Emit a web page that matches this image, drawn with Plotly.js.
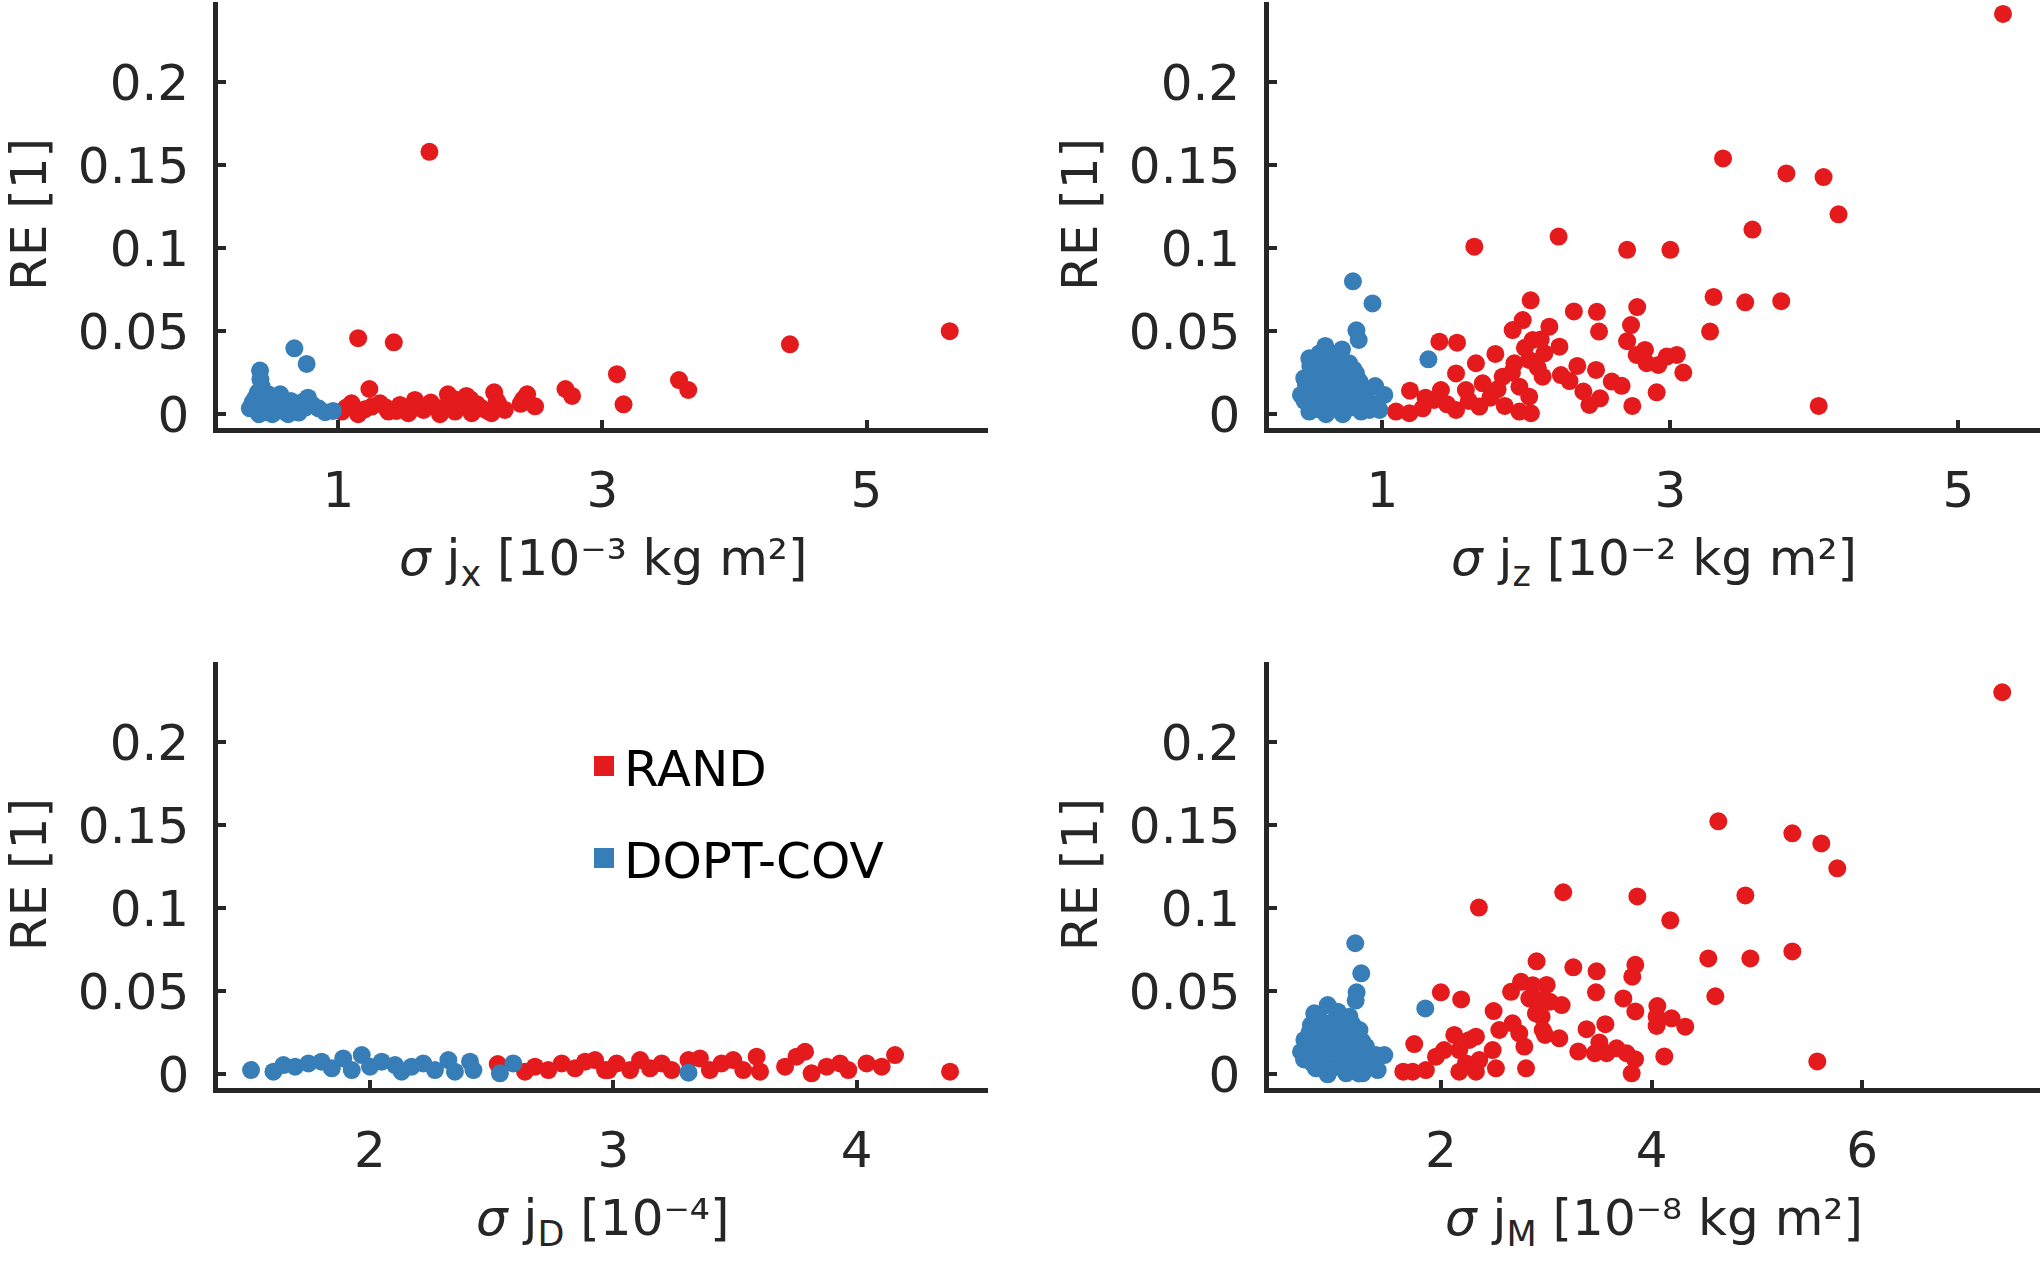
<!DOCTYPE html>
<html>
<head>
<meta charset="utf-8">
<script src="https://cdn.plot.ly/plotly-3.0.1.min.js"></script>
<style>html,body{margin:0;padding:0;background:#fff;}#chart{width:2042px;height:1264px;}</style>
</head>
<body>
<div id="chart"></div>
<script>
// ---------- data ----------
var seriesNames = ["RAND", "DOPT-COV"];
var yTickVals = [0, 0.05, 0.1, 0.15, 0.2];
var yTickText = ["0", "0.05", "0.1", "0.15", "0.2"];
var xTitles = [
  "<i>σ</i> j<sub>x</sub> [10⁻³ kg m²]",
  "<i>σ</i> j<sub>z</sub> [10⁻² kg m²]",
  "<i>σ</i> j<sub>D</sub> [10⁻⁴]",
  "<i>σ</i> j<sub>M</sub> [10⁻⁸ kg m²]"
];
var yTitle = "RE [1]";

// panel 1: sigma j_x [1e-3 kg m^2]
var jxTicks = [1, 3, 5];
var jxRandX = [1.69,1.15,1.42,1.235,2.18,2.2,1.83,1.97,1.58,2.43,2.38,2.49,2.72,2.77,3.11,3.16,3.58,3.65,4.42,5.63,
  1.026,1.10,1.15,1.253,1.316,1.379,1.467,1.53,1.58,1.645,1.707,1.77,1.834,1.884,1.947,2.01,2.086,2.16,2.21,2.26,
  1.06,1.2,1.36,1.5,1.62,1.74,1.9,2.05,2.13,1.88,2.0,1.7,1.44,2.4];
var jxRandY = [0.158,0.0458,0.0433,0.0152,0.0132,0.008,0.012,0.011,0.0086,0.012,0.0063,0.0048,0.0152,0.011,0.0241,0.006,0.0206,0.0146,0.0421,0.050,
  0.0016,0.0066,0.0,0.0046,0.0066,0.0016,0.0056,0.0006,0.0076,0.0026,0.0056,0.0,0.0066,0.0016,0.0056,0.0006,0.0036,0.0006,0.0066,0.0026,
  0.004,0.003,0.004,0.003,0.005,0.004,0.004,0.006,0.002,0.009,0.009,0.007,0.002,0.009];
var jxDoptX = [0.667,0.76,0.407,0.33,0.37,0.42,0.45,0.51,0.56,0.6,0.64,0.68,0.735,0.77,0.85,0.9,0.96,
  0.41,0.38,0.4,0.44,0.48,0.5,0.54,0.58,0.62,0.66,0.7,0.75,0.8,0.39,0.43,0.47,0.53,0.35,0.57];
var jxDoptY = [0.0397,0.0303,0.0263,0.0036,0.0095,0.0166,0.0012,0.0096,0.012,0.0048,0.008,0.003,0.0076,0.010,0.0036,0.0012,0.002,
  0.021,0.005,0.0,0.008,0.004,0.0,0.006,0.002,0.0,0.005,0.001,0.004,0.006,0.013,0.011,0.012,0.003,0.007,0.009];

// panel 2: sigma j_z [1e-2 kg m^2]
var jzTicks = [1, 3, 5];
var jzRandX = [5.31,3.366,3.806,4.064,4.168,3.57,2.224,1.639,2.70,3.0,3.30,3.52,3.77,4.03,3.276,2.03,2.33,2.49,2.77,2.727,2.505,2.70,
  1.095,1.188,1.192,1.28,1.396,1.519,1.407,1.36,1.512,1.512,1.58,1.65,1.674,1.697,1.785,1.836,1.905,1.975,2.16,2.044,1.917,2.02,2.125,2.23,1.952,2.02,1.952,2.032,2.113,2.24,
  2.354,2.484,2.593,2.662,2.396,2.512,2.438,2.736,2.766,2.824,2.836,2.917,2.975,3.045,3.09,2.905,
  1.6,1.75,1.85,1.45,1.3,1.9,2.08,1.8,2.3,1.99,2.1];
var jzRandY = [0.241,0.154,0.145,0.1428,0.1204,0.1112,0.107,0.1009,0.099,0.099,0.0706,0.0674,0.0681,0.005,0.0498,0.0686,0.0619,0.0617,0.0645,0.0537,0.0498,0.044,
  0.0016,0.0006,0.0142,0.0036,0.0437,0.0431,0.0146,0.0086,0.0246,0.0026,0.0146,0.0307,0.0046,0.0186,0.0363,0.0226,0.0507,0.0567,0.0527,0.0447,0.0307,0.0327,0.0367,0.0407,0.0166,0.0106,0.0016,0.0006,0.0226,0.0236,
  0.0291,0.0267,0.0197,0.0171,0.0137,0.0096,0.0056,0.005,0.0357,0.0387,0.0307,0.0297,0.0347,0.0357,0.0251,0.0132,
  0.008,0.01,0.005,0.006,0.01,0.025,0.028,0.015,0.02,0.04,0.045];
var jzDoptX = [0.796,0.932,0.82,0.836,1.32,0.604,0.72,0.493,0.563,0.655,0.77,0.458,0.585,0.725,0.817,0.435,0.54,0.655,0.77,0.886,1.014,0.98,0.493,0.609,0.725,0.853,0.516,0.678,0.794,0.910,0.47,0.632,0.748,
  0.55,0.68,0.6,0.7,0.5,0.62,0.85,0.95,
  0.5,0.6,0.66,0.72,0.78,0.84,0.9,0.58,0.46,0.7,0.64,0.56,0.8,0.95];
var jzDoptY = [0.080,0.0667,0.0505,0.0447,0.0331,0.0411,0.039,0.0337,0.0366,0.0337,0.0307,0.0217,0.0266,0.0226,0.0246,0.0116,0.0156,0.0126,0.0146,0.0086,0.0116,0.0026,0.0016,0.0,0.0,0.0016,0.0066,0.0046,0.0066,0.0026,0.0176,0.0206,0.0186,
  0.028,0.03,0.01,0.016,0.024,0.034,0.012,0.006,
  0.029,0.02,0.024,0.012,0.004,0.02,0.015,0.013,0.008,0.035,0.0085,0.003,0.027,0.017];

// panel 3: sigma j_D [1e-4]
var jdTicks = [2, 3, 4];
var jdRandX = [2.525,2.637,2.678,2.733,2.788,2.843,2.884,2.925,2.966,2.98,3.014,3.069,3.11,3.151,3.199,3.24,3.309,3.356,3.397,3.445,3.493,3.534,3.589,3.603,3.706,3.753,3.788,3.815,3.877,3.932,3.966,4.041,4.103,4.158,4.384];
var jdRandY = [0.0062,0.0016,0.0046,0.0026,0.0066,0.0036,0.0076,0.0086,0.0026,0.0026,0.0066,0.0026,0.0086,0.0036,0.0066,0.0026,0.0086,0.0096,0.0026,0.0066,0.0086,0.0026,0.0106,0.0016,0.0046,0.0106,0.0136,0.0006,0.0046,0.0066,0.0026,0.0066,0.0046,0.0116,0.0016];
var jdDoptX = [1.511,1.603,1.644,1.692,1.747,1.801,1.843,1.89,1.925,1.966,2.0,2.048,2.103,2.13,2.171,2.219,2.267,2.322,2.349,2.411,2.425,2.534,2.589,3.309];
var jdDoptY = [0.0026,0.0016,0.0056,0.0046,0.0066,0.0076,0.0036,0.0096,0.0026,0.0116,0.0046,0.0076,0.0056,0.0016,0.0046,0.0066,0.0026,0.0086,0.0016,0.0076,0.0026,0.0006,0.0066,0.001];

// panel 4: sigma j_M [1e-8 kg m^2]
var jmTicks = [2, 4, 6];
var jmRandX = [7.33,4.634,5.337,5.612,5.764,4.891,3.161,3.865,4.178,4.539,4.938,5.337,4.606,5.574,2.36,
  3.257,3.478,3.846,3.817,3.472,3.732,3.846,4.055,4.048,4.19,4.32,4.048,2.908,3.004,3.146,3.035,2.956,2.988,3.124,3.383,3.561,3.504,3.304,3.462,3.573,3.668,3.763,3.843,3.811,4.121,
  1.999,2.192,1.746,1.642,1.731,1.857,1.953,2.03,2.126,2.269,2.332,2.174,2.237,2.174,2.332,2.522,2.491,2.364,2.5,2.665,2.76,2.871,2.839,2.95,2.902,2.68,2.554,2.744,2.966,2.792,2.808];
var jmRandY = [0.23,0.1523,0.1451,0.139,0.124,0.1077,0.1096,0.1071,0.0927,0.0698,0.0698,0.074,0.047,0.0078,0.1004,
  0.0644,0.062,0.0659,0.0588,0.0494,0.0457,0.0379,0.0411,0.0347,0.0337,0.0287,0.0291,0.068,0.0538,0.0417,0.0437,0.0347,0.0237,0.0217,0.0272,0.0302,0.0192,0.0137,0.0127,0.0127,0.0157,0.0127,0.0091,0.0006,0.0108,
  0.0494,0.0451,0.0182,0.0016,0.0016,0.0026,0.0106,0.0146,0.0237,0.0207,0.0227,0.0146,0.0066,0.0016,0.0016,0.0036,0.0146,0.0086,0.0381,0.0497,0.0557,0.0537,0.0457,0.0447,0.0367,0.0307,0.0267,0.0247,0.0267,0.0167,0.0036];
var jmDoptX = [1.186,1.243,1.199,1.19,1.851,0.924,0.797,1.02,1.131,0.765,0.94,1.1,1.226,0.703,0.845,1.003,1.161,1.288,0.671,0.813,0.971,1.13,1.383,1.462,0.813,0.924,1.1,1.256,1.399,0.78,1.035,1.193,1.32,0.718,
  0.75,0.85,0.9,0.95,1.05,1.08,1.15,1.2,1.25,1.3,0.88,0.7,0.76,0.98,1.06,1.22,1.35,0.86,1.0,1.16];
var jmDoptY = [0.0789,0.0608,0.0494,0.0444,0.0397,0.0417,0.0367,0.0377,0.0347,0.0297,0.0307,0.0287,0.0267,0.0207,0.0227,0.0207,0.0217,0.0167,0.0136,0.0126,0.0146,0.0116,0.0116,0.0116,0.0036,0.0,0.0006,0.0006,0.0026,0.0066,0.0056,0.0066,0.0076,0.0167,
  0.025,0.033,0.018,0.025,0.028,0.016,0.005,0.015,0.02,0.012,0.008,0.009,0.0155,0.004,0.011,0.0005,0.005,0.027,0.033,0.03];

// ---------- styling ----------
var RED = "#E41A1C", BLUE = "#377EB8", INK = "#262626";
var FONT = "DejaVu Sans";
var FS = 50, TFS = 50;
var W = 2042, H = 1264;

function scat(x, y, color, xa, ya) {
  return {type: "scatter", mode: "markers", x: x, y: y, xaxis: xa, yaxis: ya,
    marker: {color: color, size: 18, line: {width: 0}}, showlegend: false, hoverinfo: "x+y"};
}

var traces = [
  scat(jxRandX, jxRandY, RED, "x", "y"),
  scat(jxDoptX, jxDoptY, BLUE, "x", "y"),
  scat(jzRandX, jzRandY, RED, "x2", "y2"),
  scat(jzDoptX, jzDoptY, BLUE, "x2", "y2"),
  scat(jdRandX, jdRandY, RED, "x3", "y3"),
  scat(jdDoptX, jdDoptY, BLUE, "x3", "y3"),
  scat(jmRandX, jmRandY, RED, "x4", "y4"),
  scat(jmDoptX, jmDoptY, BLUE, "x4", "y4"),
  {type: "scatter", mode: "markers", x: [null], y: [null], xaxis: "x3", yaxis: "y3", name: seriesNames[0],
   legendgroup: "a", marker: {symbol: "square", color: RED, size: 16, line: {color: RED, width: 4}}, showlegend: true},
  {type: "scatter", mode: "markers", x: [null], y: [null], xaxis: "x3", yaxis: "y3", name: seriesNames[1],
   legendgroup: "b", marker: {symbol: "square", color: BLUE, size: 16, line: {color: BLUE, width: 4}}, showlegend: true}
];

function xax(range, ticks, left, right, anchor) {
  return {domain: [left / W, right / W], range: range, anchor: anchor,
    tickmode: "array", tickvals: ticks, ticks: "inside", ticklen: 8, tickwidth: 4, tickcolor: INK,
    showline: true, linewidth: 4.5, linecolor: INK, showgrid: false, zeroline: false,
    tickfont: {family: FONT, size: FS, color: INK}, ticklabelstandoff: 14, automargin: false,
    fixedrange: true};
}
function yax(range, top, bottom, anchor) {
  return {domain: [1 - bottom / H, 1 - top / H], range: range, anchor: anchor,
    tickmode: "array", tickvals: yTickVals, ticktext: yTickText, ticks: "inside", ticklen: 8, tickwidth: 4, tickcolor: INK,
    showline: true, linewidth: 4.5, linecolor: INK, showgrid: false, zeroline: false,
    tickfont: {family: FONT, size: FS, color: INK}, ticklabelstandoff: 14, automargin: false,
    fixedrange: true};
}
function xTitleAnn(text, xref, yPix) {
  return {xref: xref + " domain", yref: "paper", x: 0.5, y: 1 - yPix / H, xanchor: "center", yanchor: "middle",
    text: text, showarrow: false, font: {family: FONT, size: TFS, color: INK}};
}
function yTitleAnn(yref, xPix) {
  return {xref: "paper", yref: yref + " domain", x: xPix / W, y: 0.5, xanchor: "center", yanchor: "middle",
    textangle: -90, text: yTitle, showarrow: false, font: {family: FONT, size: TFS, color: INK}};
}

var yR = [-0.0084, 0.2482];
var layout = {
  width: W, height: H,
  margin: {l: 0, r: 0, t: 0, b: 0},
  paper_bgcolor: "#ffffff", plot_bgcolor: "#ffffff",
  font: {family: FONT, size: FS, color: INK},
  xaxis:  xax([0.0864, 5.92], jxTicks, 217.7, 988, "y"),
  yaxis:  yax(yR, 2, 428.2, "x"),
  xaxis2: xax([0.211, 5.567], jzTicks, 1268.7, 2040, "y2"),
  yaxis2: yax(yR, 2, 428.2, "x2"),
  xaxis3: xax([1.374, 4.54], jdTicks, 217.7, 988, "y3"),
  yaxis3: yax(yR, 662, 1088.3, "x3"),
  xaxis4: xax([0.364, 7.689], jmTicks, 1268.7, 2040, "y4"),
  yaxis4: yax(yR, 662, 1088.3, "x4"),
  annotations: [
    xTitleAnn(xTitles[0], "x", 561),
    xTitleAnn(xTitles[1], "x2", 561),
    xTitleAnn(xTitles[2], "x3", 1221),
    xTitleAnn(xTitles[3], "x4", 1221),
    yTitleAnn("y", 29),
    yTitleAnn("y2", 1080),
    yTitleAnn("y3", 29),
    yTitleAnn("y4", 1080)
  ],
  showlegend: true,
  legend: {x: 584 / W, y: 1 - 727 / H, xanchor: "left", yanchor: "top",
    bgcolor: "rgba(0,0,0,0)", borderwidth: 0, tracegroupgap: 24, traceorder: "grouped",
    font: {family: FONT, size: 50, color: "#000000"}, itemclick: false, itemdoubleclick: false}
};

Plotly.newPlot("chart", traces, layout, {displayModeBar: false, staticPlot: true});
</script>
</body>
</html>
